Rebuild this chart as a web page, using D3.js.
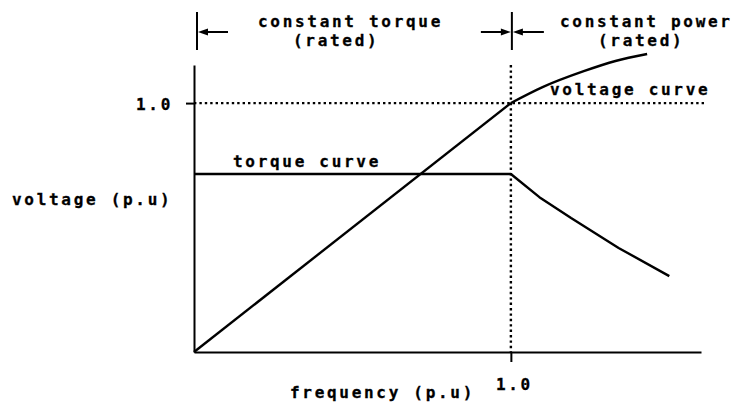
<!DOCTYPE html>
<html>
<head>
<meta charset="utf-8">
<script src="https://cdn.jsdelivr.net/npm/d3@7"></script>
<style>
  html, body { margin: 0; padding: 0; background: #fff; }
  svg { display: block; }
  text {
    font-family: "DejaVu Sans Mono", "Liberation Mono", monospace;
    font-weight: bold;
    font-size: 16px;
    letter-spacing: 2.7px;
    fill: #000;
    stroke: #000;
    stroke-width: 0.3px;
  }
</style>
</head>
<body>
<svg id="chart" width="742" height="407"></svg>
<script>
// Voltage rises linearly up to rated frequency, then bends over (field weakening)
const voltRiseFreq = [0, 1.0];
const voltRise     = [0, 1.0];
const voltBendFreq = [1.0, 1.10, 1.23, 1.33, 1.43];
const voltBend     = [1.0, 1.064, 1.128, 1.169, 1.197];

// Torque: constant up to rated frequency, falling in the constant-power range
const torqueFreq = [0, 1.0, 1.09, 1.19, 1.34, 1.50];
const torque     = [0.715, 0.715, 0.622, 0.538, 0.418, 0.305];

// Rated point (p.u.) and axis tick values
const ratedFreq = 1.0;
const ratedVolt = 1.0;
const xTicks = [1.0];
const yTicks = [1.0];

const svg = d3.select("#chart");

const x = d3.scaleLinear().domain([0, 1.6]).range([194, 701]);
const y = d3.scaleLinear().domain([0, 1.153]).range([352, 65]);

const fmt = d3.format(".1f");

// Axes
const xAxis = svg.append("g")
  .attr("transform", `translate(0,${y(0)})`)
  .call(d3.axisBottom(x).tickValues(xTicks).tickFormat(fmt).tickSize(10).tickSizeOuter(0).tickPadding(17));
const yAxis = svg.append("g")
  .attr("transform", `translate(${x(0)},0)`)
  .call(d3.axisLeft(y).tickValues(yTicks).tickFormat(fmt).tickSize(8).tickSizeOuter(0).tickPadding(13));

[xAxis, yAxis].forEach(g => {
  g.selectAll("path.domain").attr("stroke", "#000").attr("stroke-width", 2);
  g.selectAll(".tick line").attr("stroke", "#000").attr("stroke-width", 2);
  g.selectAll(".tick text")
    .style("font-family", '"DejaVu Sans Mono", monospace')
    .style("font-size", "16px")
    .style("font-weight", "bold")
    .attr("fill", "#000");
});
xAxis.selectAll(".tick text").attr("dx", 3);
yAxis.selectAll(".tick text").attr("dy", "0.4em");

// Dotted reference lines at rated frequency and rated voltage
svg.append("line")
  .attr("x1", x(ratedFreq)).attr("x2", x(ratedFreq))
  .attr("y1", y.range()[1]).attr("y2", y(0))
  .attr("stroke", "#000").attr("stroke-width", 2.4)
  .attr("stroke-dasharray", "2.4,3");
svg.append("line")
  .attr("x1", x(0)).attr("x2", x(1.61))
  .attr("y1", y(ratedVolt)).attr("y2", y(ratedVolt))
  .attr("stroke", "#000").attr("stroke-width", 2.4)
  .attr("stroke-dasharray", "2.4,3");

// Curves
const lineLinear = d3.line().x(d => x(d[0])).y(d => y(d[1]));
const lineSmooth = d3.line().x(d => x(d[0])).y(d => y(d[1])).curve(d3.curveMonotoneX);

svg.append("path")
  .attr("d", lineLinear(d3.zip(voltRiseFreq, voltRise)))
  .attr("fill", "none").attr("stroke", "#000").attr("stroke-width", 2.4);
svg.append("path")
  .attr("d", lineSmooth(d3.zip(voltBendFreq, voltBend)))
  .attr("fill", "none").attr("stroke", "#000").attr("stroke-width", 2.4);
svg.append("path")
  .attr("d", lineLinear(d3.zip(torqueFreq, torque)))
  .attr("fill", "none").attr("stroke", "#000").attr("stroke-width", 2.4)
  .attr("stroke-linejoin", "round");

// Region markers above the plot
const barTop = 12, barBottom = 50, arrowY = 32;
[0, ratedFreq].forEach(f => {
  svg.append("line")
    .attr("x1", x(f) + (f === 0 ? 3 : 1)).attr("x2", x(f) + (f === 0 ? 3 : 1))
    .attr("y1", barTop).attr("y2", barBottom)
    .attr("stroke", "#000").attr("stroke-width", 2);
});

function arrow(xFrom, xTo) {
  const dir = Math.sign(xTo - xFrom);
  svg.append("line")
    .attr("x1", xFrom).attr("x2", xTo - dir * 4)
    .attr("y1", arrowY).attr("y2", arrowY)
    .attr("stroke", "#000").attr("stroke-width", 2);
  svg.append("path")
    .attr("d", `M${xTo},${arrowY} L${xTo - dir * 10},${arrowY - 3.5} L${xTo - dir * 10},${arrowY + 3.5} Z`)
    .attr("fill", "#000");
}
arrow(x(0) + 34, x(0) + 4);
arrow(x(ratedFreq) - 30, x(ratedFreq));
arrow(x(ratedFreq) + 33, x(ratedFreq) + 2);

// Text annotations
const labels = [
  { t: "constant torque", x: 258, y: 27 },
  { t: "(rated)",         x: 293, y: 46 },
  { t: "constant power",  x: 560, y: 27 },
  { t: "(rated)",         x: 598, y: 46 },
  { t: "voltage curve",   x: 550, y: 95 },
  { t: "torque curve",    x: 233, y: 167 },
  { t: "voltage (p.u)",   x: 12,  y: 205 },
  { t: "frequency (p.u)", x: 290, y: 398 }
];
svg.selectAll("text.lbl")
  .data(labels)
  .join("text")
  .attr("class", "lbl")
  .attr("x", d => d.x)
  .attr("y", d => d.y)
  .text(d => d.t);
</script>
</body>
</html>
